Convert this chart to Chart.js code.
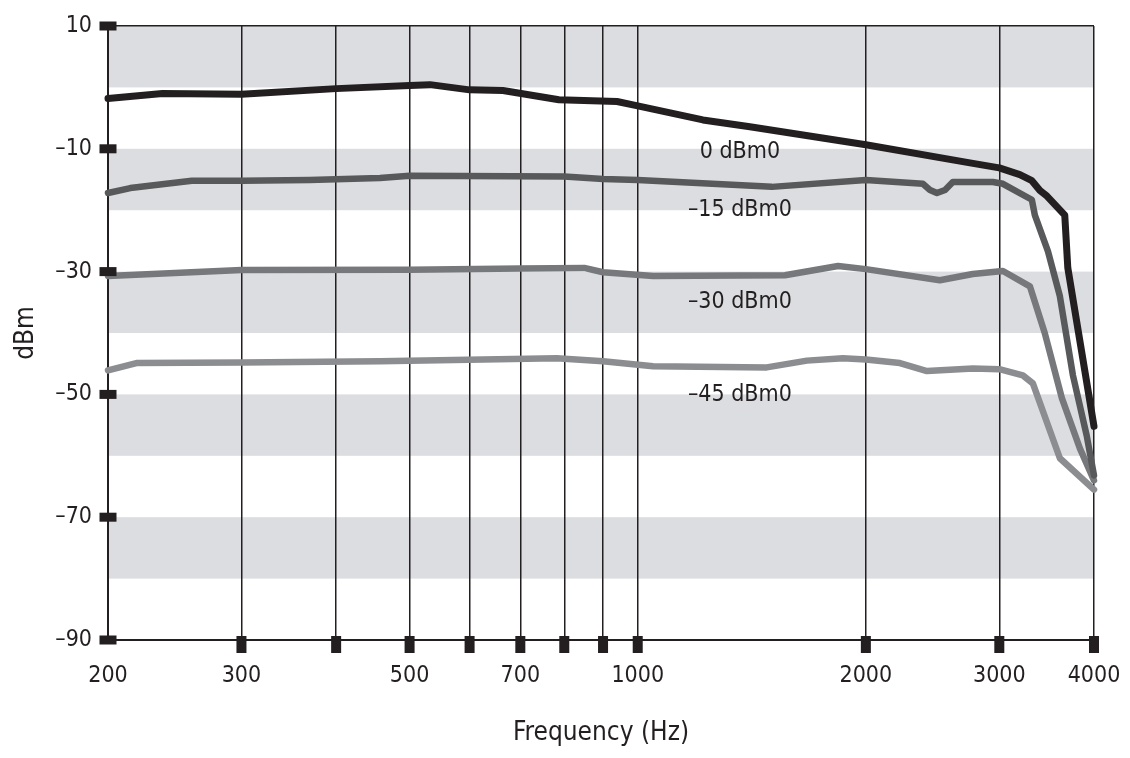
<!DOCTYPE html>
<html>
<head>
<meta charset="utf-8">
<script src="https://cdn.jsdelivr.net/npm/chart.js@4.4.1/dist/chart.umd.min.js"></script>
<style>
  html, body { margin: 0; padding: 0; background: #fff; }
  #wrap { width: 1130px; height: 758px; }
</style>
</head>
<body>
<div id="wrap"><canvas id="livelli" width="1130" height="758"></canvas></div>
<script>
const FONT = "'Liberation Sans Narrow', 'DejaVu Sans Condensed', sans-serif";
const INK = '#231f20';

// curve (Hz, dBm)
const freq0 = [200, 236, 300, 400, 500, 532, 600, 664, 787, 939, 1000, 1219, 1406, 2000, 2744, 3000, 3193, 3312, 3394, 3467, 3660, 3694, 4000];
const dbm0  = [-1.8, -1.0, -1.1, -0.2, 0.3, 0.45, -0.4, -0.5, -2.0, -2.3, -3.0, -5.3, -6.4, -9.35, -12.3, -13.1, -14.2, -15.2, -16.8, -17.7, -20.8, -29.4, -55.2];

const freq15 = [200, 214, 258, 300, 369, 457, 500, 800, 900, 1000, 1503, 2000, 2378, 2430, 2482, 2544, 2605, 2942, 3033, 3312, 3342, 3478, 3606, 3752, 3912, 4000];
const dbm15  = [-17.2, -16.4, -15.2, -15.2, -15.1, -14.75, -14.4, -14.5, -14.9, -15.1, -16.2, -15.1, -15.7, -16.7, -17.2, -16.7, -15.4, -15.4, -15.7, -18.3, -20.8, -26.7, -34.0, -46.9, -56.7, -63.2];

const freq30 = [200, 300, 500, 700, 850, 900, 1048, 1564, 1838, 2000, 2504, 2768, 3033, 3292, 3444, 3628, 3832, 4000];
const dbm30  = [-30.7, -29.75, -29.7, -29.5, -29.4, -30.1, -30.7, -30.6, -29.1, -29.6, -31.4, -30.4, -29.9, -32.4, -40.0, -50.6, -58.8, -64.0];

const freq45 = [200, 218, 300, 457, 782, 900, 1048, 1480, 1672, 1865, 2000, 2218, 2408, 2768, 3000, 3222, 3322, 3606, 4000];
const dbm45  = [-46.1, -44.9, -44.8, -44.6, -44.1, -44.6, -45.4, -45.6, -44.5, -44.1, -44.3, -44.9, -46.2, -45.8, -45.9, -46.9, -48.2, -60.4, -65.5];

const curveNames = ['0 dBm0', '–15 dBm0', '–30 dBm0', '–45 dBm0'];
const xGrid = [200, 300, 400, 500, 600, 700, 800, 900, 1000, 2000, 3000, 4000];
const xTickLabels = [200, 300, 500, 700, 1000, 2000, 3000, 4000];
const yTicks = [10, -10, -30, -50, -70, -90];
const yTickLabels = ['10', '–10', '–30', '–50', '–70', '–90'];
const bands = [[0, 10], [-20, -10], [-40, -30], [-60, -50], [-80, -70]];

// dove stanno le scritte delle curve, in Hz e dBm
const nameFreq = 1364;
const nameDbm = [-10.5, -20, -34.9, -50.1];

const punti = (f, d) => f.map((v, i) => ({ x: v, y: d[i] }));

const decor = {
    id: 'decor',
    beforeDraw(chart) {
        const { ctx, chartArea: a, scales: { y } } = chart;
        ctx.save();
        ctx.fillStyle = '#dcdde0';
        bands.forEach(([lo, hi]) => {
            const top = y.getPixelForValue(hi);
            const bot = y.getPixelForValue(lo);
            ctx.fillRect(a.left, top, a.right - a.left, bot - top);
        });
        ctx.restore();
    },
    afterDatasetsDraw(chart) {
        const { ctx, scales: { x, y } } = chart;
        ctx.save();
        ctx.font = '23px ' + FONT;
        ctx.fillStyle = INK;
        ctx.textAlign = 'center';
        ctx.textBaseline = 'middle';
        curveNames.forEach((t, i) => {
            ctx.fillText(t, x.getPixelForValue(nameFreq), y.getPixelForValue(nameDbm[i]));
        });
        ctx.restore();
    },
    afterDraw(chart) {
        const { ctx, chartArea: a, scales: { x, y } } = chart;
        ctx.save();
        ctx.fillStyle = INK;
        yTicks.forEach(v => {
            const py = y.getPixelForValue(v);
            ctx.fillRect(a.left - 8.5, py - 4.5, 17, 9);
        });
        xGrid.slice(1).forEach(v => {
            const px = x.getPixelForValue(v);
            ctx.fillRect(px - 5, a.bottom - 4, 10, 17);
        });
        ctx.restore();
    }
};

const linea = (label, data, color, width) => ({
    label: label,
    data: data,
    borderColor: color,
    borderWidth: width,
    pointRadius: 0,
    tension: 0,
    fill: false,
    borderCapStyle: 'round',
    borderJoinStyle: 'round',
    clip: 8
});

const senzaMargini = s => {
    s.paddingLeft = 0;
    s.paddingRight = 0;
    s.paddingTop = 0;
    s.paddingBottom = 0;
};

const config = {
    type: 'line',
    data: {
        datasets: [
            linea(curveNames[0], punti(freq0, dbm0), '#231f20', 7),
            linea(curveNames[1], punti(freq15, dbm15), '#58595b', 6.5),
            linea(curveNames[2], punti(freq30, dbm30), '#77787b', 6.5),
            linea(curveNames[3], punti(freq45, dbm45), '#8c8d90', 6.5)
        ]
    },
    options: {
        responsive: false,
        animation: false,
        layout: { padding: { top: 26, right: 36, left: 0, bottom: 0 } },
        plugins: {
            legend: { display: false },
            tooltip: { enabled: false }
        },
        scales: {
            x: {
                type: 'logarithmic',
                min: 200,
                max: 4000,
                afterBuildTicks: s => { s.ticks = xGrid.map(v => ({ value: v })); },
                afterFit: s => { s.height = 118; senzaMargini(s); },
                grid: { color: INK, lineWidth: 1.5, drawTicks: false },
                border: { display: true, color: INK, width: 2 },
                ticks: {
                    autoSkip: false,
                    maxRotation: 0,
                    padding: 22,
                    color: INK,
                    font: { family: FONT, size: 23 },
                    callback: v => xTickLabels.includes(v) ? String(v) : ''
                },
                title: {
                    display: true,
                    text: 'Frequency (Hz)',
                    color: INK,
                    font: { family: FONT, size: 26 },
                    padding: { top: 0, bottom: 9 }
                }
            },
            y: {
                min: -90,
                max: 10,
                afterBuildTicks: s => { s.ticks = yTicks.map(v => ({ value: v })); },
                afterFit: s => { s.width = 108; senzaMargini(s); },
                grid: {
                    color: c => (c.tick && c.tick.value === 10) ? INK : 'rgba(0,0,0,0)',
                    lineWidth: 1.5,
                    drawTicks: false
                },
                border: { display: true, color: INK, width: 2 },
                ticks: {
                    padding: 16,
                    color: INK,
                    font: { family: FONT, size: 23 },
                    callback: v => yTickLabels[yTicks.indexOf(v)]
                },
                title: {
                    display: true,
                    text: 'dBm',
                    color: INK,
                    font: { family: FONT, size: 26 },
                    padding: { top: 11, bottom: 0 }
                }
            }
        }
    },
    plugins: [decor]
};

window.livelliChart = new Chart(document.getElementById('livelli'), config);
</script>
</body>
</html>
